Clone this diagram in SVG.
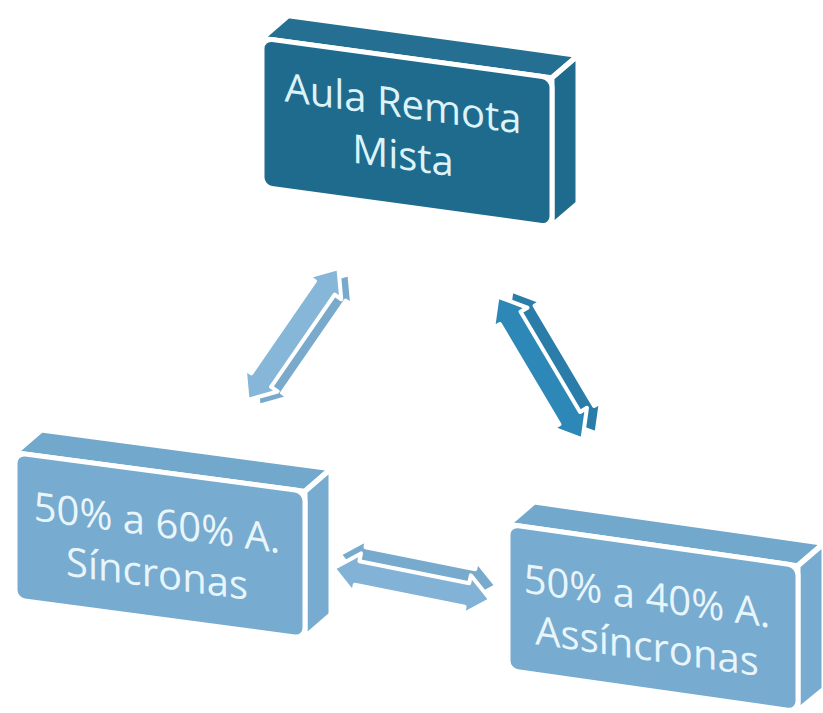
<svg xmlns="http://www.w3.org/2000/svg" width="823" height="713" viewBox="0 0 823 713">
<style>
.face{stroke:#ffffff;stroke-width:5;stroke-linejoin:round}
.dk{fill:#1F6B8E}
.dkt{fill:#246F92}
.lt{fill:#77ABCF}
.ltt{fill:#72A8CC}
.lbl{font-family:"Open Sans","Noto Sans","Liberation Sans",sans-serif;font-size:40px;text-anchor:middle}
.arr{stroke:#ffffff;stroke-width:4;stroke-linejoin:round}
</style>
<defs>
<polygon id="dbl" points="-80,0 -56,-20 -56,-12 56,-12 56,-20 80,0 56,20 56,12 -56,12 -56,20"/>
</defs>
<rect width="823" height="713" fill="#ffffff"/>
<g id="connectors">
<g id="arrow-left">
<use href="#dbl" class="arr" fill="#7AAACB" transform="translate(304,340) rotate(-55.4)"/>
<use href="#dbl" class="arr" fill="#86B6D8" transform="translate(293,334) rotate(-55.4)"/>
</g>
<g id="arrow-right">
<use href="#dbl" class="arr" fill="#2A7DA8" transform="translate(554,362) rotate(59.3) scale(1.04,1)"/>
<use href="#dbl" class="arr" fill="#2D88B8" transform="translate(540,368) rotate(59.3) scale(1.04,1)"/>
</g>
<g id="arrow-bottom">
<use href="#dbl" class="arr" fill="#78AACD" transform="translate(418,570) rotate(11.3)"/>
<use href="#dbl" class="arr" fill="#82B3D6" transform="translate(412,584) rotate(11.3)"/>
</g>
</g>
<g id="node-top" transform="translate(407,132) skewY(7.8)">
<polygon class="face dkt" points="-145,-74 145,-74 171,-100 -119,-100"/>
<polygon class="face dk" points="145,-74 171,-100 171,48 145,74"/>
<rect class="face dk" x="-145" y="-74" width="290" height="149" rx="10"/>
<text class="lbl" fill="#DDF3FA" x="-4" y="-14">Aula Remota</text>
<text class="lbl" fill="#DDF3FA" x="-4" y="38">Mista</text>
</g>
<g id="node-left" transform="translate(160,545) skewY(7.6)">
<polygon class="face ltt" points="-145,-73 145,-73 171,-99 -119,-99"/>
<polygon class="face lt" points="145,-73 171,-99 171,47 145,73"/>
<rect class="face lt" x="-145" y="-73" width="290" height="147" rx="10"/>
<text class="lbl" fill="#E8F6FC" x="-3" y="-8">50% a 60% A.</text>
<text class="lbl" fill="#E8F6FC" x="-3" y="43">Síncronas</text>
</g>
<g id="node-right" transform="translate(653,617) skewY(8.1)">
<polygon class="face ltt" points="-145,-72 145,-72 171,-98 -119,-98"/>
<polygon class="face lt" points="145,-72 171,-98 171,48 145,73"/>
<rect class="face lt" x="-145" y="-72" width="290" height="146" rx="10"/>
<text class="lbl" fill="#E8F6FC" x="-6" y="-6">50% a 40% A.</text>
<text class="lbl" fill="#E8F6FC" x="-6" y="44">Assíncronas</text>
</g>
</svg>
